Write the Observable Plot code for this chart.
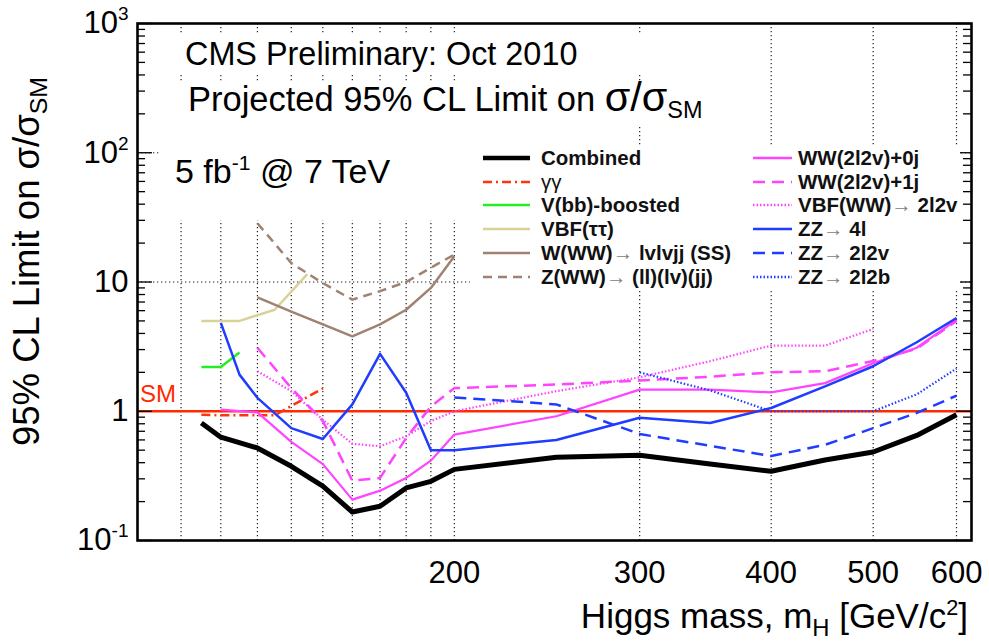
<!DOCTYPE html>
<html><head><meta charset="utf-8">
<script src="https://cdn.jsdelivr.net/npm/d3@7"></script>
<script src="https://cdn.jsdelivr.net/npm/@observablehq/plot@0.6"></script>
<style>
body{margin:0;background:#fff;font-family:"Liberation Sans",Arial,Helvetica,sans-serif;}
#wrap{position:relative;width:989px;height:642px;overflow:hidden;background:#fff}
.box{position:absolute;background:#fff}
.t{position:absolute;white-space:nowrap;color:#000;line-height:1;}
.sub{position:relative;font-size:0.68em;top:0.32em}
.sup{position:relative;font-size:0.62em;top:-0.62em}
.sig{font-size:1.2em;line-height:0.8}
.leg{position:absolute;white-space:nowrap;font-weight:bold;font-size:20.5px;line-height:1;height:20px;color:#111}
.arr{font-weight:normal;color:#808080;line-height:0.8}
</style></head>
<body><div id="wrap"><div id="chart"></div></div>
<script>
// ---------------- data ----------------
const massCombined = [115,120,130,140,150,160,170,180,190,200,250,300,350,400,450,500,550,600];
const limCombined  = [0.81,0.63,0.52,0.375,0.263,0.166,0.184,0.255,0.287,0.355,0.44,0.457,0.39,0.343,0.42,0.484,0.65,0.94];

const massGG = [115,120,130,135,140,150];
const limGG  = [0.94,0.93,0.93,0.93,1.1,1.5];

const massVbb = [115,120,125];
const limVbb  = [2.2,2.2,2.85];

const massVBFtt = [115,125,135,145];
const limVBFtt  = [5.0,5.0,6.1,11.5];

const massWWss = [130,140,150,160,170,180,190,200];
const limWWss  = [7.6,5.9,4.7,3.8,4.7,6.1,9.0,15.8];

const massZWW = [130,140,150,160,170,180,190,200];
const limZWW  = [28.5,14,9.8,7.3,8.5,10,12.9,16.3];

const massWW0j = [120,130,140,150,160,170,180,190,200,250,300,350,400,450,500,550,600];
const limWW0j  = [1.03,0.98,0.58,0.39,0.207,0.243,0.305,0.415,0.66,0.915,1.47,1.47,1.40,1.65,2.35,3.1,5.1];

const massWW1j = [130,140,150,160,170,180,190,200,250,300,350,400,450,500,550,600];
const limWW1j  = [3.1,1.51,0.84,0.29,0.305,0.62,1.09,1.51,1.61,1.73,1.85,2.0,2.04,2.45,3.05,5.0];

const massVBFWW = [130,140,150,160,170,180,190,200,250,300,350,400,450,500];
const limVBFWW  = [2.04,1.43,0.86,0.56,0.536,0.64,0.84,1.0,1.43,1.83,2.44,3.22,3.22,4.33];

const massZZ4l = [120,125,130,140,150,160,170,180,190,200,250,300,350,400,450,500,550,600];
const limZZ4l  = [4.83,1.92,1.27,0.74,0.61,1.13,2.78,1.39,0.50,0.50,0.60,0.89,0.81,1.06,1.56,2.23,3.42,5.27];

const massZZ2l2v = [200,250,300,350,400,450,500,550,600];
const limZZ2l2v  = [1.28,1.13,0.667,0.54,0.45,0.55,0.74,0.97,1.32];

const massZZ2l2b = [300,350,400,450,500,550,600];
const limZZ2l2b  = [2.0,1.45,1.0,1.0,1.0,1.35,2.14];

const smLimit = [1];
const gridMass = [110,120,130,140,150,160,170,180,190,200,300,400,500,600];
const gridLimit = [10,100];
const xTicks = [200,300,400,500,600];
const yTicks = [0.1,1,10,100,1000];
const yTickLabels = ["10^-1","1","10","10^2","10^3"];
const minorMult = [2,3,4,5,6,7,8,9];

const seriesKeys = ["Combined","gg","Vbb","VBFtt","WWss","ZWW","WW0j","WW1j","VBFWW","ZZ4l","ZZ2l2v","ZZ2l2b"];
const seriesLabels = ["Combined","γγ","V(bb)-boosted","VBF(ττ)",
  "W(WW)<span class='arr'>→</span> lvlvjj (SS)","Z(WW)<span class='arr'>→</span> (ll)(lv)(jj)",
  "WW(2l2v)+0j","WW(2l2v)+1j","VBF(WW)<span class='arr'>→</span> 2l2v",
  "ZZ<span class='arr'>→</span> 4l","ZZ<span class='arr'>→</span> 2l2v","ZZ<span class='arr'>→</span> 2l2b"];
const seriesMass = [massCombined,massGG,massVbb,massVBFtt,massWWss,massZWW,massWW0j,massWW1j,massVBFWW,massZZ4l,massZZ2l2v,massZZ2l2b];
const seriesLim  = [limCombined,limGG,limVbb,limVBFtt,limWWss,limZWW,limWW0j,limWW1j,limVBFWW,limZZ4l,limZZ2l2v,limZZ2l2b];

// ---------------- styles ----------------
const style = {
  Combined:{color:"#000000", w:5},
  gg:{color:"#ff3311", w:2.5, dash:"9 4 2 4"},
  Vbb:{color:"#22ee22", w:2.5},
  VBFtt:{color:"#d8d199", w:2.5},
  WWss:{color:"#a08272", w:2.5},
  ZWW:{color:"#a08272", w:2.5, dash:"9 6"},
  WW0j:{color:"#ff44ff", w:2.2},
  WW1j:{color:"#ff44ff", w:2.5, dash:"12 7"},
  VBFWW:{color:"#ff44ff", w:2.2, dash:"1.5 2"},
  ZZ4l:{color:"#1f3cff", w:2.5},
  ZZ2l2v:{color:"#1f3cff", w:2.5, dash:"12 7"},
  ZZ2l2b:{color:"#1f3cff", w:2.2, dash:"1.5 2"}
};

const rows = seriesKeys.map((k,i)=>seriesMass[i].map((m,j)=>({series:k, mass:m, limit:seriesLim[i][j]})));
const minorTicks = yTicks.slice(0,4).flatMap(d=>minorMult.map(m=>d*m));

const W = 989, H = 642, mL = 137, mR = 18, mT = 23, mB = 102;
const fw = W - mL - mR;

const drawOrder = ["gg","Vbb","VBFtt","WWss","ZWW","WW0j","WW1j","VBFWW","ZZ4l","ZZ2l2v","ZZ2l2b","Combined"];
const lineMarks = drawOrder.map(k=>{
  const s = style[k];
  return Plot.line(rows[seriesKeys.indexOf(k)], {x:"mass", y:"limit", stroke:s.color, strokeWidth:s.w,
    strokeDasharray:s.dash || null, strokeLinejoin:"round", strokeLinecap:"butt"});
});

const chart = Plot.plot({
  width:W, height:H, marginLeft:mL, marginRight:mR, marginTop:mT, marginBottom:mB,
  x:{type:"log", domain:[100,620], label:null},
  y:{type:"log", domain:[0.1,1000], label:null},
  style:{fontFamily:"Liberation Sans, Arial, Helvetica, sans-serif", background:"white", color:"black"},
  marks:[
    Plot.ruleX(gridMass, {stroke:"#222", strokeWidth:1.2, strokeDasharray:"1.3 2.7"}),
    Plot.ruleY(gridLimit, {stroke:"#222", strokeWidth:1.2, strokeDasharray:"1.3 2.7"}),
    Plot.ruleY(smLimit, {stroke:"#ff2a00", strokeWidth:2.6}),
    ...lineMarks,
    Plot.tickY(minorTicks, {y:d=>d, insetRight:fw-8, stroke:"black", strokeWidth:1.3}),
    Plot.tickY(minorTicks, {y:d=>d, insetLeft:fw-8, stroke:"black", strokeWidth:1.3}),
    Plot.tickY(yTicks, {y:d=>d, insetRight:fw-15, stroke:"black", strokeWidth:1.3}),
    Plot.tickY(yTicks, {y:d=>d, insetLeft:fw-15, stroke:"black", strokeWidth:1.3}),
    Plot.axisX(xTicks, {tickSize:0, tickPadding:20, fontSize:31, tickFormat:d=>String(d)}),
    Plot.axisY(yTicks, {tickSize:0, tickPadding:9, fontSize:31, tickFormat:(d,i)=>yTickLabels[yTicks.indexOf(d)]}),
    Plot.frame({stroke:"black", strokeWidth:2.6})
  ]
});
document.getElementById("chart").appendChild(chart);

// superscripts on the y tick labels
const svgns = "http://www.w3.org/2000/svg";
chart.querySelectorAll('g[aria-label="y-axis tick label"] text').forEach(t=>{
  const s = t.textContent;
  if (s.includes("^")) {
    const [b,e] = s.split("^");
    t.textContent = b;
    const ts = document.createElementNS(svgns,"tspan");
    ts.setAttribute("font-size","19");
    ts.setAttribute("dy","-13");
    ts.textContent = e;
    t.appendChild(ts);
  }
});

// ---------------- overlay text boxes ----------------
const wrap = document.getElementById("wrap");
function box(l,t,w,h){const d=document.createElement("div");d.className="box";Object.assign(d.style,{left:l+"px",top:t+"px",width:w+"px",height:h+"px"});wrap.appendChild(d);}
function txt(html,left,baseline,size,extra){
  const d=document.createElement("div");d.className="t";d.innerHTML=html;
  Object.assign(d.style,{left:left+"px",top:(baseline-0.8465*size)+"px",fontSize:size+"px"},extra||{});
  wrap.appendChild(d);return d;
}
box(150,35,580,38);
box(150,82,590,43);
box(160,125,310,95);
box(470,145,490,145);

txt("CMS Preliminary: Oct 2010",185,65,32.4);
txt("Projected 95% CL Limit on <span class='sig'>σ/σ</span><span class='sub'>SM</span>",188,110,34.5);
txt("5 fb<span class='sup'>-1</span> @ 7 TeV",175,183,34);
txt("SM",140,402,24,{color:"#ff2a00"});
const xl = txt("Higgs mass, m<span class='sub'>H</span> [GeV/c<span class='sup'>2</span>]",0,628,35);
xl.style.left = ""; xl.style.right = (W-968)+"px";
const yl = txt("95% CL Limit on σ/σ<span class='sub'>SM</span>",0,0,36.5);
Object.assign(yl.style,{left:"9px",top:"446px",transform:"rotate(-90deg)",transformOrigin:"0 0"});

// legend
const legendCols = [{x1:483,x2:530,tx:541},{x1:753,x2:792,tx:798}];
const rowY = [158,182,205,229,253,277];
seriesKeys.forEach((k,i)=>{
  const col = legendCols[Math.floor(i/6)], cy = rowY[i%6], s = style[k];
  const sv = document.createElementNS(svgns,"svg");
  sv.setAttribute("width", col.x2-col.x1); sv.setAttribute("height", 10);
  Object.assign(sv.style,{position:"absolute", left:col.x1+"px", top:(cy-5)+"px"});
  const ln = document.createElementNS(svgns,"line");
  ln.setAttribute("x1",0); ln.setAttribute("x2",col.x2-col.x1); ln.setAttribute("y1",5); ln.setAttribute("y2",5);
  ln.setAttribute("stroke",s.color); ln.setAttribute("stroke-width",k==="Combined"?4.5:2.5);
  if (s.dash) ln.setAttribute("stroke-dasharray",s.dash);
  sv.appendChild(ln); wrap.appendChild(sv);
  const d = document.createElement("div"); d.className="leg"; d.innerHTML = seriesLabels[i];
  if (k==="gg") d.style.fontWeight="normal";
  Object.assign(d.style,{left:col.tx+"px", top:(cy+7.5-0.8465*20.5)+"px"});
  wrap.appendChild(d);
});
</script>
</body></html>
